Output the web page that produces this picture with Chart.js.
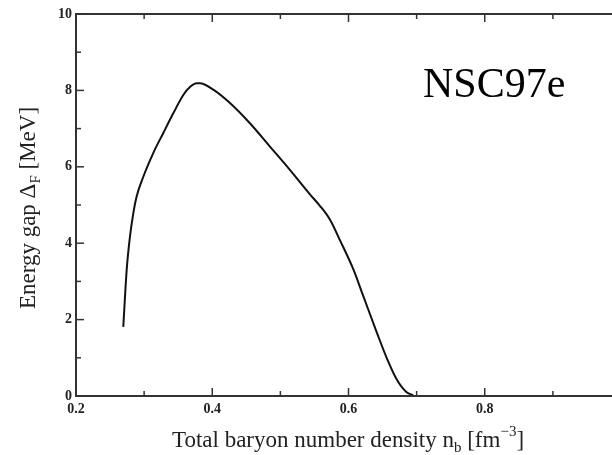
<!DOCTYPE html>
<html>
<head>
<meta charset="utf-8">
<script src="https://cdn.jsdelivr.net/npm/chart.js@4"></script>
<style>
  html, body { margin: 0; padding: 0; overflow: hidden; background: #fff; }
  #wrap { width: 640px; height: 455px; }
</style>
</head>
<body>
<div id="wrap"><canvas id="gapChart" width="640" height="455"></canvas></div>
<script>
// NSC97e - energy gap vs total baryon density
const density = [0.2694, 0.2744, 0.2792, 0.2841, 0.289, 0.2988, 0.3134, 0.328, 0.3428, 0.3575,
                 0.368, 0.377, 0.382, 0.4015, 0.426, 0.4553, 0.4847, 0.514, 0.5434, 0.558,
                 0.5727, 0.5874, 0.607, 0.6216, 0.6412, 0.656, 0.6706, 0.6853, 0.695];
const gap = [1.81, 3.30, 4.17, 4.78, 5.22, 5.74, 6.36, 6.88, 7.40, 7.88,
             8.10, 8.19, 8.19, 8.02, 7.67, 7.14, 6.53, 5.92, 5.28, 4.98,
             4.62, 4.08, 3.32, 2.62, 1.68, 1.00, 0.44, 0.10, 0.02];
const xMajor = [0.2, 0.4, 0.6, 0.8, 1.0];
const xMinor = [0.3, 0.5, 0.7, 0.9];
const yMajor = [0, 2, 4, 6, 8, 10];
const yMinor = [1, 3, 5, 7, 9];

const ink = '#222';
const serif = '"Liberation Serif", "DejaVu Serif", serif';

// draws text pieces with sub/superscripts, centred on (0,0) of current transform
function richText(ctx, parts) {
    let w = 0;
    parts.forEach(p => { ctx.font = p.size + 'px ' + serif; p.w = ctx.measureText(p.t).width; w += p.w; });
    let x = -w / 2;
    parts.forEach(p => {
        ctx.font = p.size + 'px ' + serif;
        ctx.fillText(p.t, x, p.dy || 0);
        x += p.w;
    });
}

const frame = {
    id: 'frame',
    afterDraw(chart) {
        const {ctx, chartArea: a, scales: {x, y}} = chart;
        ctx.save();
        ctx.strokeStyle = '#333';
        ctx.lineWidth = 2;
        ctx.strokeRect(a.left, a.top, a.right - a.left, a.bottom - a.top);
        ctx.lineWidth = 1.5;
        const tick = (x1, y1, x2, y2) => { ctx.beginPath(); ctx.moveTo(x1, y1); ctx.lineTo(x2, y2); ctx.stroke(); };
        [[xMajor, 8], [xMinor, 5]].forEach(([vals, len]) => vals.forEach(v => {
            const px = x.getPixelForValue(v);
            tick(px, a.bottom, px, a.bottom - len);
            tick(px, a.top, px, a.top + len);
        }));
        [[yMajor, 8], [yMinor, 5]].forEach(([vals, len]) => vals.forEach(v => {
            const py = y.getPixelForValue(v);
            tick(a.left, py, a.left + len, py);
            tick(a.right, py, a.right - len, py);
        }));

        ctx.fillStyle = ink;
        ctx.textBaseline = 'alphabetic';
        // x title
        ctx.save();
        ctx.translate(348, 447);
        richText(ctx, [
            {t: 'Total baryon number density n', size: 23},
            {t: 'b', size: 15, dy: 5},
            {t: ' [fm', size: 23},
            {t: '\u22123', size: 15, dy: -11},
            {t: ']', size: 23}
        ]);
        ctx.restore();
        // y title
        ctx.save();
        ctx.translate(35, 208);
        ctx.rotate(-Math.PI / 2);
        richText(ctx, [
            {t: 'Energy gap \u0394', size: 23},
            {t: 'F', size: 15, dy: 5},
            {t: ' [MeV]', size: 23}
        ]);
        ctx.restore();
        // label
        ctx.fillStyle = '#000';
        ctx.font = '42px ' + serif;
        ctx.textAlign = 'left';
        ctx.fillText('NSC97e', 423, 97);
        ctx.restore();
    }
};

const ctx = document.getElementById('gapChart').getContext('2d');
const gapChart = new Chart(ctx, {
    type: 'scatter',
    data: {
        datasets: [{
            data: density.map((d, i) => ({x: d, y: gap[i]})),
            showLine: true,
            borderColor: '#111',
            borderWidth: 2,
            pointRadius: 0,
            cubicInterpolationMode: 'monotone',
            fill: false
        }]
    },
    options: {
        responsive: false,
        animation: false,
        layout: {padding: {top: 14, right: 19, left: 0, bottom: 0}},
        plugins: {legend: {display: false}, tooltip: {enabled: false}},
        scales: {
            x: {
                type: 'linear', min: 0.2, max: 1.0,
                grid: {display: false, drawTicks: false},
                border: {display: false},
                afterFit: s => { s.height = 59; },
                ticks: {
                    stepSize: 0.2, padding: 5, color: ink, maxRotation: 0,
                    font: {family: serif, size: 14, weight: 'bold'},
                    callback: v => v < 0.95 ? v.toFixed(1) : ''
                }
            },
            y: {
                min: 0, max: 10,
                grid: {display: false, drawTicks: false},
                border: {display: false},
                afterFit: s => { s.width = 76; },
                ticks: {
                    stepSize: 2, padding: 4, color: ink,
                    font: {family: serif, size: 14, weight: 'bold'}
                }
            }
        }
    },
    plugins: [frame]
});
</script>
</body>
</html>
